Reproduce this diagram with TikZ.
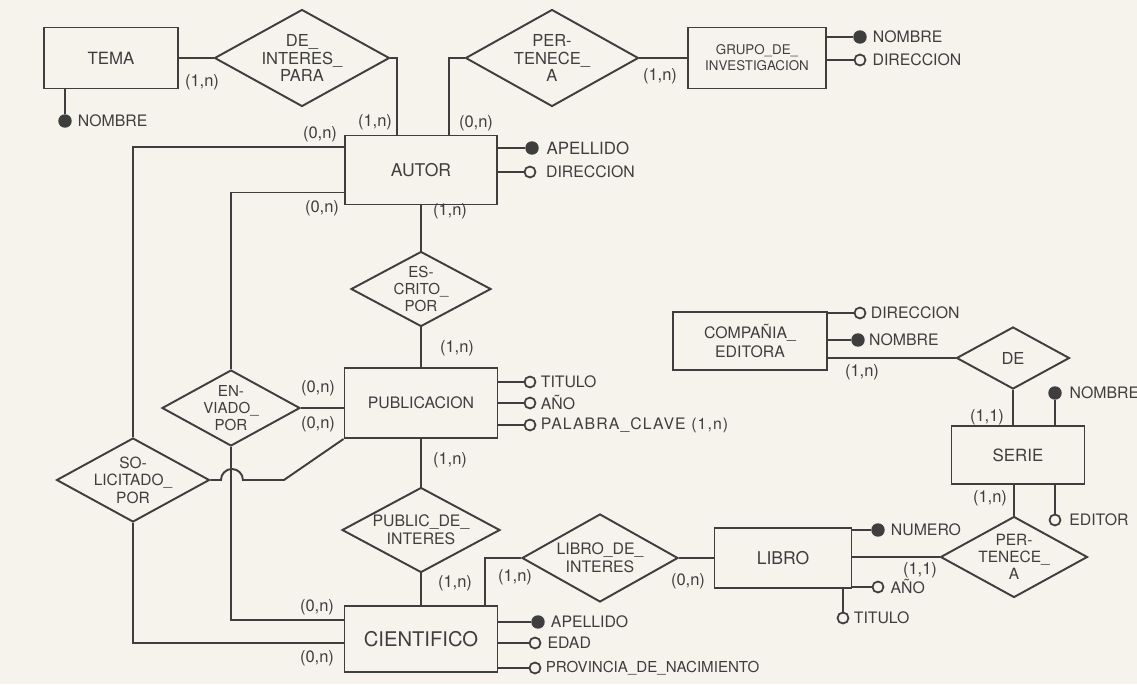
\documentclass[tikz,border=0pt]{standalone}
\usepackage{fontspec}
\setmainfont{TeX Gyre Heros}
\usepackage{xcolor}
\usetikzlibrary{shapes.geometric,positioning}
\definecolor{paper}{HTML}{F6F3EC}
\definecolor{ink}{HTML}{3E3E3E}

\begin{document}
\begin{tikzpicture}[
  x=0.02cm, y=-0.02cm,
  color=ink,
  line width=1.1pt,
  entity/.style={rectangle, draw=ink, fill=paper, inner sep=0pt, align=center, font=\fontsize{9.6}{11}\selectfont},
  rel/.style={diamond, aspect=2, draw=ink, fill=paper, inner sep=-5pt, align=center, font=\fontsize{9.4}{10.2}\selectfont},
  keyattr/.style={circle, draw=ink, fill=ink, minimum size=0.23cm, inner sep=0pt},
  attr/.style={circle, draw=ink, fill=paper, line width=1pt, minimum size=0.22cm, inner sep=0pt},
  attrname/.style={anchor=west, inner sep=1pt, font=\fontsize{9}{10}\selectfont},
  card/.style={inner sep=0pt, font=\fontsize{9.4}{10}\selectfont}
]
  \fill[paper] (0,0) rectangle (1137,684);
  \useasboundingbox (0,0) rectangle (1137,684);

  \node[entity, minimum width=2.68cm, minimum height=1.22cm] (tema) at (111,58) {TEMA};
  \node[rel, minimum width=3.5cm, minimum height=1.94cm] (deint) at (302,58) {DE\_\\INTERES\_\\PARA};
  \node[rel, minimum width=3.46cm, minimum height=1.94cm] (pert1) at (552,58) {PER-\\TENECE\_\\A};
  \node[entity, minimum width=2.76cm, minimum height=1.22cm, font=\fontsize{7.6}{9}\selectfont] (grupo) at (757,58) {GRUPO\_DE\_\\INVESTIGACION};
  \node[entity, minimum width=3.04cm, minimum height=1.38cm, font=\fontsize{10}{11}\selectfont] (autor) at (421,170) {AUTOR};
  \node[rel, minimum width=2.8cm, minimum height=1.5cm, font=\fontsize{8.6}{9.8}\selectfont] (escrito) at (421,289) {ES-\\CRITO\_\\POR};
  \node[entity, minimum width=3.06cm, minimum height=1.4cm, font=\fontsize{9}{10}\selectfont] (publ) at (421,403) {PUBLICACION};
  \node[rel, minimum width=2.76cm, minimum height=1.52cm, font=\fontsize{8.6}{9.8}\selectfont] (enviado) at (231,408) {EN-\\VIADO\_\\POR};
  \node[rel, minimum width=3.06cm, minimum height=1.68cm, font=\fontsize{8.8}{10}\selectfont] (solic) at (133,480) {SO-\\LICITADO\_\\POR};
  \node[rel, minimum width=3.16cm, minimum height=1.7cm, font=\fontsize{9}{10.4}\selectfont] (pubint) at (421,530) {PUBLIC\_DE\_\\INTERES};
  \node[entity, minimum width=3.06cm, minimum height=1.32cm, font=\fontsize{11.5}{12}\selectfont] (cient) at (421,639) {CIENTIFICO};
  \node[rel, minimum width=3.12cm, minimum height=1.76cm, font=\fontsize{9}{10.4}\selectfont] (libint) at (600,558) {LIBRO\_DE\_\\INTERES};
  \node[entity, minimum width=2.74cm, minimum height=1.2cm, font=\fontsize{10}{11}\selectfont] (libro) at (783,558) {LIBRO};
  \node[rel, minimum width=2.94cm, minimum height=1.62cm, font=\fontsize{8.8}{9.8}\selectfont] (pert2) at (1014,557) {PER-\\TENECE\_\\A};
  \node[entity, minimum width=2.66cm, minimum height=1.16cm] (serie) at (1018,455) {SERIE};
  \node[rel, minimum width=2.26cm, minimum height=1.24cm] (de) at (1013,358) {DE};
  \node[entity, minimum width=3.08cm, minimum height=1.16cm, font=\fontsize{9}{10.4}\selectfont] (compania) at (750,341) {COMPAÑIA\_\\EDITORA};

  \draw (tema.east) -- (deint.west);
  \draw (deint.east) -| ([xshift=1.06cm]autor.north west);
  \draw (pert1.west) -| ([xshift=2.1cm]autor.north west);
  \draw (pert1.east) -- (grupo.west);
  \draw (autor.south) -- (escrito.north);
  \draw (escrito.south) -- (publ.north);
  \draw (publ.south) -- (pubint.north);
  \draw (pubint.south) -- (cient.north);
  \draw ([yshift=-0.24cm]autor.north west) -| (solic.north);
  \draw ([yshift=0.26cm]autor.south west) -| (enviado.north);
  \draw (enviado.east) -- (enviado.east -| publ.west);
  \draw (publ.south west) -- ([xshift=1.47cm]solic.east) -- ([xshift=0.65cm]solic.east)
    arc[start angle=0, end angle=180, radius=0.22cm] -- (solic.east);
  \draw (enviado.south) |- ([yshift=-0.3cm]cient.north west);
  \draw (solic.south) |- ([yshift=0.6cm]cient.south west);
  \draw ([xshift=-0.26cm]cient.north east) |- (libint.west);
  \draw (libint.east) -- (libint.east -| libro.west);
  \draw (pert2.west -| libro.east) -- (pert2.west);
  \draw (pert2.north) -- (pert2.north |- serie.south);
  \draw (de.south) -- (de.south |- serie.north);
  \draw (de.west -| compania.east) -- (de.west);

  \node[keyattr] (temaNom) at (65,121) {};
  \node[attrname, right=2pt of temaNom] (temaNomT) {NOMBRE};
  \draw (temaNom |- tema.south) -- (temaNom);

  \node[keyattr] (grNom) at (860,37) {};
  \node[attr] (grDir) at (860,60) {};
  \node[attrname, right=2pt of grNom] (grNomT) {NOMBRE};
  \node[attrname, right=2pt of grDir] (grDirT) {DIRECCION};
  \draw (grNom -| grupo.east) -- (grNom);
  \draw (grDir -| grupo.east) -- (grDir);

  \node[keyattr] (autApe) at (532,148) {};
  \node[attr] (autDir) at (530,172) {};
  \node[attrname, right=3pt of autApe, font=\fontsize{9.6}{10}\selectfont] (autApeT) {APELLIDO};
  \node[attrname, right=4pt of autDir] (autDirT) {DIRECCION};
  \draw (autApe -| autor.east) -- (autApe);
  \draw (autDir -| autor.east) -- (autDir);

  \node[attr] (pubTit) at (530,382) {};
  \node[attr] (pubAno) at (530,403) {};
  \node[attr] (pubPal) at (530,425) {};
  \node[attrname, right=1pt of pubTit] (pubTitT) {TITULO};
  \node[attrname, right=1pt of pubAno] (pubAnoT) {AÑO};
  \node[attrname, right=1pt of pubPal, font=\fontsize{9}{10}\selectfont\addfontfeature{LetterSpace=7}] (pubPalT) {PALABRA\_CLAVE (1,n)};
  \draw (pubTit -| publ.east) -- (pubTit);
  \draw (pubAno -| publ.east) -- (pubAno);
  \draw (pubPal -| publ.east) -- (pubPal);

  \node[keyattr] (ciApe) at (538,622) {};
  \node[attr] (ciEdad) at (535,643) {};
  \node[attr] (ciProv) at (535,668) {};
  \node[attrname, right=2pt of ciApe] (ciApeT) {APELLIDO};
  \node[attrname, right=2pt of ciEdad] (ciEdadT) {EDAD};
  \node[attrname, right=1pt of ciProv, font=\fontsize{8.6}{10}\selectfont] (ciProvT) {PROVINCIA\_DE\_NACIMIENTO};
  \draw (ciApe -| cient.east) -- (ciApe);
  \draw (ciEdad -| cient.east) -- (ciEdad);
  \draw (ciProv -| cient.east) -- (ciProv);

  \node[attr] (coDir) at (860,313) {};
  \node[keyattr] (coNom) at (858,340) {};
  \node[attrname, right=1pt of coDir] (coDirT) {DIRECCION};
  \node[attrname, right=1pt of coNom] (coNomT) {NOMBRE};
  \draw (coDir -| compania.east) -- (coDir);
  \draw (coNom -| compania.east) -- (coNom);

  \node[keyattr] (seNom) at (1055,393) {};
  \node[attr] (seEd) at (1055,520) {};
  \node[attrname, right=3pt of seNom] (seNomT) {NOMBRE};
  \node[attrname, right=3pt of seEd] (seEdT) {EDITOR};
  \draw (seNom |- serie.north) -- (seNom);
  \draw (seEd |- serie.south) -- (seEd);

  \node[keyattr] (liNum) at (878,530) {};
  \node[attr] (liAno) at (878,587) {};
  \node[attr] (liTit) at (843,618) {};
  \node[attrname, right=2pt of liNum] (liNumT) {NUMERO};
  \node[attrname, right=2pt of liAno] (liAnoT) {AÑO};
  \node[attrname, right=1pt of liTit] (liTitT) {TITULO};
  \draw (liNum -| libro.east) -- (liNum);
  \draw (liAno -| libro.east) -- (liAno);
  \draw (liTit |- libro.south) -- (liTit);

  \node[card] (k1) at (202,82) {(1,n)};
  \node[card] (k2) at (375,122) {(1,n)};
  \node[card] (k3) at (476,123) {(0,n)};
  \node[card] (k4) at (660,76) {(1,n)};
  \node[card] (k5) at (320,134) {(0,n)};
  \node[card] (k6) at (322,208) {(0,n)};
  \node[card] (k7) at (450,211) {(1,n)};
  \node[card] (k8) at (457,348) {(1,n)};
  \node[card] (k9) at (318,388) {(0,n)};
  \node[card] (k10) at (318,424) {(0,n)};
  \node[card] (k11) at (450,460) {(1,n)};
  \node[card] (k12) at (455,583) {(1,n)};
  \node[card] (k13) at (515,577) {(1,n)};
  \node[card] (k14) at (688,581) {(0,n)};
  \node[card] (k15) at (920,570) {(1,1)};
  \node[card] (k16) at (990,498) {(1,n)};
  \node[card] (k17) at (987,417) {(1,1)};
  \node[card] (k18) at (862,372) {(1,n)};
  \node[card] (k19) at (317,607) {(0,n)};
  \node[card] (k20) at (317,658) {(0,n)};
\end{tikzpicture}
\end{document}
